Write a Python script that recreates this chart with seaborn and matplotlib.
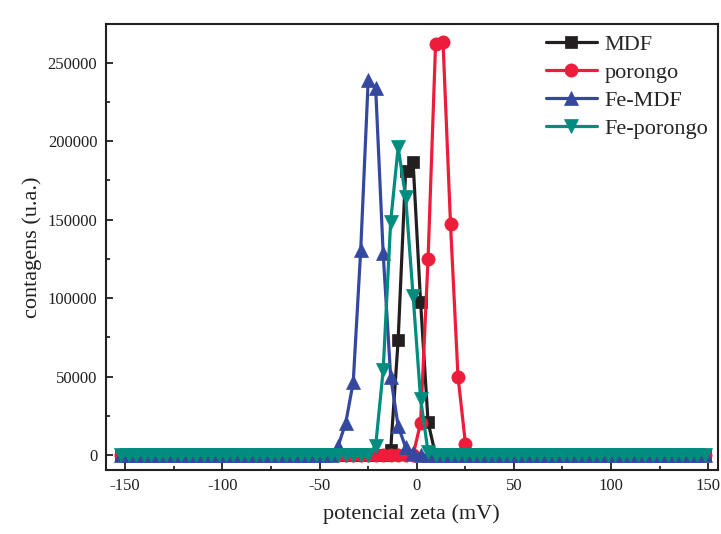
import matplotlib
matplotlib.use("Agg")
import matplotlib.pyplot as plt
import seaborn as sns
import pandas as pd
from matplotlib.ticker import MultipleLocator, FuncFormatter

# ---- data ----
zeta_mv = [-152.00, -148.15, -144.30, -140.45, -136.60, -132.75, -128.90, -125.05,
           -121.20, -117.35, -113.50, -109.65, -105.80, -101.95, -98.10, -94.25,
           -90.40, -86.55, -82.70, -78.85, -75.00, -71.15, -67.30, -63.45,
           -59.60, -55.75, -51.90, -48.05, -44.20, -40.35, -36.50, -32.65,
           -28.80, -24.95, -21.10, -17.25, -13.40, -9.55, -5.70, -1.85,
           2.00, 5.85, 9.70, 13.55, 17.40, 21.25, 25.10, 28.95,
           32.80, 36.65, 40.50, 44.35, 48.20, 52.05, 55.90, 59.75,
           63.60, 67.45, 71.30, 75.15, 79.00, 82.85, 86.70, 90.55,
           94.40, 98.25, 102.10, 105.95, 109.80, 113.65, 117.50, 121.35,
           125.20, 129.05, 132.90, 136.75, 140.60, 144.45, 148.30]

series_names = ["MDF", "porongo", "Fe-MDF", "Fe-porongo"]

# index of the first non-zero point on the grid, and the non-zero counts
mdf_start = 36
mdf_peak = [3000, 73000, 181000, 186500, 97500, 21000]
porongo_start = 40
porongo_peak = [20500, 125000, 261500, 263000, 147000, 50000, 7000]
femdf_start = 29
femdf_peak = [6000, 20500, 46500, 130500, 239000, 233500, 128500, 50000, 18500, 5000, 1000]
feporongo_start = 34
feporongo_peak = [6000, 54000, 148500, 196000, 164500, 101500, 36000, 2000]

x_ticks = [-150, -100, -50, 0, 50, 100, 150]
y_ticks = [0, 50000, 100000, 150000, 200000, 250000]


def full_counts(start, peak):
    n = len(zeta_mv)
    return [0] * start + peak + [0] * (n - start - len(peak))


counts = {
    "MDF": full_counts(mdf_start, mdf_peak),
    "porongo": full_counts(porongo_start, porongo_peak),
    "Fe-MDF": full_counts(femdf_start, femdf_peak),
    "Fe-porongo": full_counts(feporongo_start, feporongo_peak),
}

colors = {"MDF": "#231F20", "porongo": "#ED1C3A", "Fe-MDF": "#3548A0", "Fe-porongo": "#008C7E"}
markers = {"MDF": "s", "porongo": "o", "Fe-MDF": "^", "Fe-porongo": "v"}
msizes = {"MDF": 8, "porongo": 9.5, "Fe-MDF": 10.5, "Fe-porongo": 10.5}

# ---- style ----
sns.set_style("ticks")
plt.rcParams["font.family"] = ["Liberation Serif", "DejaVu Serif"]
plt.rcParams["mathtext.fontset"] = "stix"

fig = plt.figure(figsize=(7.21, 5.34), dpi=100)
ax = fig.add_axes([0.1466, 0.1199, 0.8492, 0.8351])

for name in series_names:
    df = pd.DataFrame({"zeta": zeta_mv, "count": counts[name]})
    sns.lineplot(data=df, x="zeta", y="count", ax=ax, color=colors[name],
                 marker=markers[name], markersize=msizes[name],
                 markeredgecolor=colors[name], markerfacecolor=colors[name],
                 markeredgewidth=0.5, linewidth=2.3, label=name, sort=False,
                 clip_on=True)

ax.set_xlim(-160, 155)
ax.set_ylim(-9500, 274500)
ax.set_xticks(x_ticks)
ax.set_yticks(y_ticks)
ax.xaxis.set_minor_locator(MultipleLocator(25))
ax.yaxis.set_minor_locator(MultipleLocator(25000))
ax.yaxis.set_major_formatter(FuncFormatter(lambda v, p: f"{int(v)}"))
ax.xaxis.set_major_formatter(FuncFormatter(lambda v, p: f"{int(v)}"))

ax.tick_params(axis="both", which="major", direction="in", length=5, width=1.3,
               labelsize=12, colors="#231F20", pad=6)
ax.tick_params(axis="both", which="minor", direction="in", length=3, width=1.3)
ax.tick_params(top=False, right=False, which="both")
for s in ax.spines.values():
    s.set_visible(True)
    s.set_linewidth(1.5)
    s.set_color("#231F20")

ax.set_xlabel("potencial zeta (mV)", fontsize=16, color="#231F20", labelpad=7)
ax.set_ylabel("contagens (u.a.)", fontsize=16, color="#231F20", labelpad=4)

leg = ax.legend(loc="upper left", bbox_to_anchor=(0.693, 1.011), frameon=False,
                fontsize=16, handlelength=2.3, handletextpad=0.36,
                labelspacing=0.33, borderaxespad=0.3)

fig.savefig("out.png", dpi=100)
